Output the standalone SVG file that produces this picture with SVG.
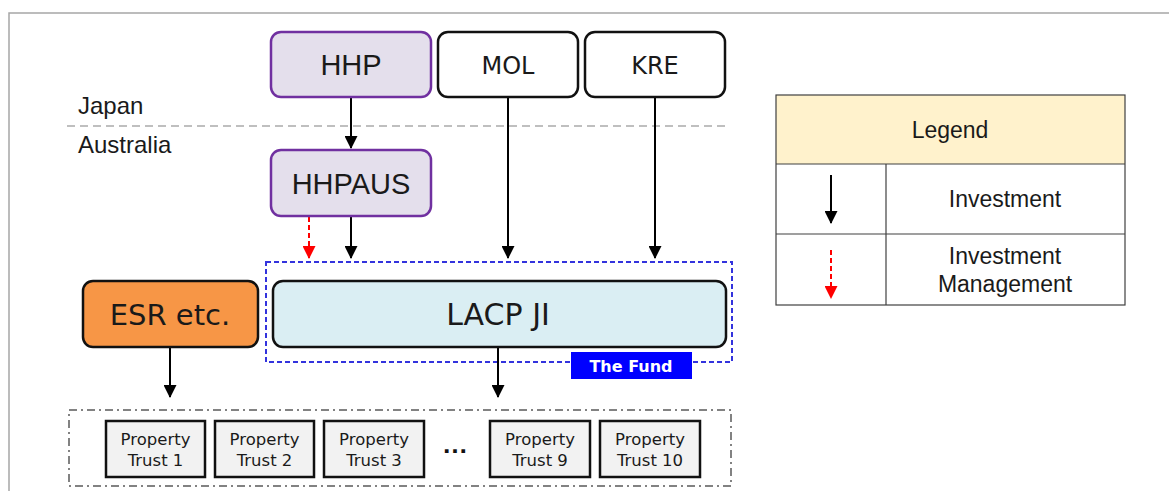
<svg xmlns="http://www.w3.org/2000/svg" width="1169" height="491" viewBox="0 0 1169 491">
<style>
.ar{font-family:"Liberation Sans",Arial,sans-serif;fill:#1a1a1a}
.me{font-family:"DejaVu Sans","Open Sans",sans-serif;fill:#1a1a1a}
.purple{fill:#e4dfec;stroke:#7030a0;stroke-width:2.5}
.wbox{fill:#ffffff;stroke:#111;stroke-width:2.5}
.pt{fill:#f2f2f2;stroke:#111;stroke-width:2.5}
.inv{stroke:#000;stroke-width:2;fill:none;marker-end:url(#ah)}
.mgmt{stroke:#ff0000;stroke-width:2;stroke-dasharray:5 3;fill:none;marker-end:url(#ahr)}
.leg{stroke:#404040;stroke-width:1.2;fill:none}
</style>
<defs>
<marker id="ah" markerUnits="userSpaceOnUse" markerWidth="13" markerHeight="13" refX="12" refY="6.5" orient="auto">
<path d="M0,0 L13,6.5 L0,13 Z" fill="#000"/>
</marker>
<marker id="ahr" markerUnits="userSpaceOnUse" markerWidth="13" markerHeight="13" refX="12" refY="6.5" orient="auto">
<path d="M0,0 L13,6.5 L0,13 Z" fill="#ff0000"/>
</marker>
</defs>
<rect width="1169" height="491" fill="#fff"/>
<path d="M9,491 V13 H1169" fill="none" stroke="#a6a6a6" stroke-width="1.5"/>

<g id="regions">
<line x1="67" y1="126" x2="725" y2="126" stroke="#bfbfbf" stroke-width="2" stroke-dasharray="8 5"/>
<text class="ar" x="78" y="114" font-size="24">Japan</text>
<text class="ar" x="78" y="153" font-size="24">Australia</text>
</g>

<g id="fund">
<rect x="266" y="262" width="466" height="100" fill="none" stroke="#3333dd" stroke-width="2" stroke-dasharray="5 3"/>
<rect x="571" y="352" width="121" height="27" fill="#0000ff"/>
<text x="631" y="372" font-family="'DejaVu Sans','Open Sans',sans-serif" font-weight="bold" font-size="16" fill="#fff" text-anchor="middle">The Fund</text>
</g>

<g id="connectors">
<line class="inv" x1="351" y1="97" x2="351" y2="148"/>
<line class="mgmt" x1="309" y1="217" x2="309" y2="258"/>
<line class="inv" x1="351" y1="217" x2="351" y2="258"/>
<line class="inv" x1="508" y1="98" x2="508" y2="258"/>
<line class="inv" x1="655" y1="98" x2="655" y2="258"/>
<line class="inv" x1="170" y1="347" x2="170" y2="397"/>
<line class="inv" x1="498" y1="347" x2="498" y2="397"/>
</g>

<g id="HHP">
<rect class="purple" x="271" y="32" width="160" height="65" rx="10"/>
<text class="ar" x="351" y="75" font-size="29" text-anchor="middle">HHP</text>
</g>
<g id="MOL">
<rect class="wbox" x="438" y="32" width="140" height="65" rx="10"/>
<text class="me" x="508" y="74" font-size="24" text-anchor="middle">MOL</text>
</g>
<g id="KRE">
<rect class="wbox" x="585" y="32" width="140" height="65" rx="10"/>
<text class="me" x="655" y="74" font-size="24" text-anchor="middle">KRE</text>
</g>
<g id="HHPAUS">
<rect class="purple" x="271" y="150" width="160" height="66" rx="10"/>
<text class="ar" x="351" y="194" font-size="29" text-anchor="middle">HHPAUS</text>
</g>
<g id="ESR">
<rect x="83" y="281" width="175" height="66" rx="10" fill="#f79646" stroke="#111" stroke-width="2.5"/>
<text class="me" x="170" y="325" font-size="29" text-anchor="middle">ESR etc.</text>
</g>
<g id="LACPJI">
<rect x="273" y="281" width="453" height="66" rx="10" fill="#daeef3" stroke="#111" stroke-width="2.5"/>
<text class="me" x="498" y="325" font-size="30" text-anchor="middle">LACP JI</text>
</g>

<g id="trusts">
<rect x="69" y="410" width="662" height="76" fill="none" stroke="#595959" stroke-width="1.5" stroke-dasharray="8 4 2 4"/>
<text x="455" y="453" font-family="'Liberation Sans',Arial,sans-serif" font-weight="bold" font-size="26" fill="#111" text-anchor="middle">…</text>
</g>
<g id="pt1">
<rect class="pt" x="106" y="421" width="99" height="56"/>
<text class="me" x="155.5" y="445" font-size="16.5" text-anchor="middle">Property</text>
<text class="me" x="155.5" y="466" font-size="16.5" text-anchor="middle">Trust 1</text>
</g>
<g id="pt2">
<rect class="pt" x="215" y="421" width="99" height="56"/>
<text class="me" x="264.5" y="445" font-size="16.5" text-anchor="middle">Property</text>
<text class="me" x="264.5" y="466" font-size="16.5" text-anchor="middle">Trust 2</text>
</g>
<g id="pt3">
<rect class="pt" x="324" y="421" width="100" height="56"/>
<text class="me" x="374" y="445" font-size="16.5" text-anchor="middle">Property</text>
<text class="me" x="374" y="466" font-size="16.5" text-anchor="middle">Trust 3</text>
</g>
<g id="pt9">
<rect class="pt" x="490" y="421" width="100" height="56"/>
<text class="me" x="540" y="445" font-size="16.5" text-anchor="middle">Property</text>
<text class="me" x="540" y="466" font-size="16.5" text-anchor="middle">Trust 9</text>
</g>
<g id="pt10">
<rect class="pt" x="600" y="421" width="100" height="56"/>
<text class="me" x="650" y="445" font-size="16.5" text-anchor="middle">Property</text>
<text class="me" x="650" y="466" font-size="16.5" text-anchor="middle">Trust 10</text>
</g>

<g id="legend">
<rect x="776" y="95" width="349" height="69" fill="#fff2cc"/>
<rect class="leg" x="776" y="95" width="349" height="210"/>
<line class="leg" x1="776" y1="164" x2="1125" y2="164"/>
<line class="leg" x1="776" y1="234" x2="1125" y2="234"/>
<line class="leg" x1="886" y1="164" x2="886" y2="305"/>
<text class="ar" x="950" y="138" font-size="23" text-anchor="middle">Legend</text>
<text class="ar" x="1005" y="207" font-size="23" text-anchor="middle">Investment</text>
<text class="ar" x="1005" y="264" font-size="23" text-anchor="middle">Investment</text>
<text class="ar" x="1005" y="292" font-size="23" text-anchor="middle">Management</text>
<line class="inv" x1="831" y1="175" x2="831" y2="223"/>
<line class="mgmt" x1="831" y1="250" x2="831" y2="298"/>
</g>
</svg>
